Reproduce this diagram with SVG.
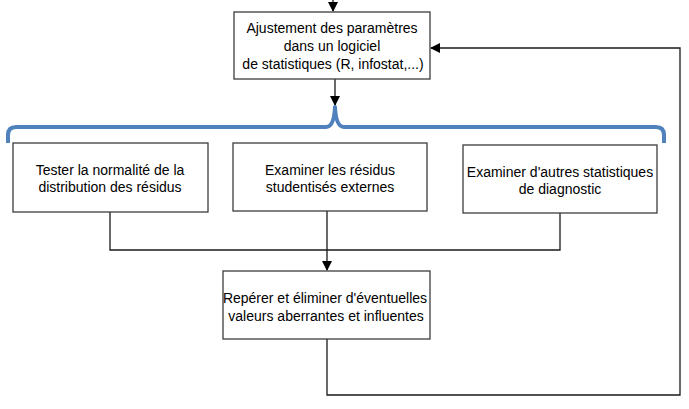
<svg xmlns="http://www.w3.org/2000/svg" width="689" height="409" viewBox="0 0 689 409">
<style>
.box{fill:#fff;stroke:#3c3c3c;stroke-width:1.3}
.t{font-family:"Liberation Sans",Arial,sans-serif;font-size:14px;fill:#000;text-anchor:middle}
.c{fill:none;stroke:#1a1a1a;stroke-width:1.3}
.brace{fill:none;stroke:#4f81bd;stroke-width:4;stroke-linejoin:round}
</style>
<defs>
<marker id="ah" markerWidth="10" markerHeight="10" refX="9" refY="5" orient="auto" markerUnits="userSpaceOnUse">
<path d="M0,0 L10,5 L0,10 z" fill="#000"/>
</marker>
</defs>
<g id="connectors">
<line class="c" x1="333" y1="0" x2="333" y2="11" marker-end="url(#ah)"/>
<line class="c" x1="335" y1="79" x2="335" y2="105" marker-end="url(#ah)"/>
<polyline class="c" points="110,212 110,250 560,250 560,213"/>
<line class="c" x1="327" y1="211" x2="327" y2="270" marker-end="url(#ah)"/>
<polyline class="c" points="327,339 327,395 680,395 680,48 431,48" marker-end="url(#ah)"/>
</g>
<g id="brace">
<path class="brace" d="M8,143 L8,135 Q8,127 16,127 L326,127 Q334,127 335,107 Q336,127 344,127 L656,127 Q664,127 664,135 L664,143"/>
</g>
<g id="node-ajustement">
<rect class="box" x="234" y="12" width="196" height="67"/>
<text class="t" x="332" y="33">Ajustement des paramètres</text>
<text class="t" x="332" y="51">dans un logiciel</text>
<text class="t" x="333" y="69">de statistiques (R, infostat,...)</text>
</g>
<g id="node-normalite">
<rect class="box" x="13" y="143" width="195" height="69"/>
<text class="t" x="110" y="175">Tester la normalité de la</text>
<text class="t" x="110" y="192">distribution des résidus</text>
</g>
<g id="node-residus">
<rect class="box" x="233" y="143" width="194" height="68"/>
<text class="t" x="330" y="175">Examiner les résidus</text>
<text class="t" x="330" y="192">studentisés externes</text>
</g>
<g id="node-diagnostic">
<rect class="box" x="463" y="145" width="194" height="68"/>
<text class="t" x="560" y="177">Examiner d'autres statistiques</text>
<text class="t" x="560" y="194">de diagnostic</text>
</g>
<g id="node-reperer">
<rect class="box" x="223" y="271" width="207" height="68"/>
<text class="t" x="325" y="303">Repérer et éliminer d'éventuelles</text>
<text class="t" x="326" y="321">valeurs aberrantes et influentes</text>
</g>
</svg>
